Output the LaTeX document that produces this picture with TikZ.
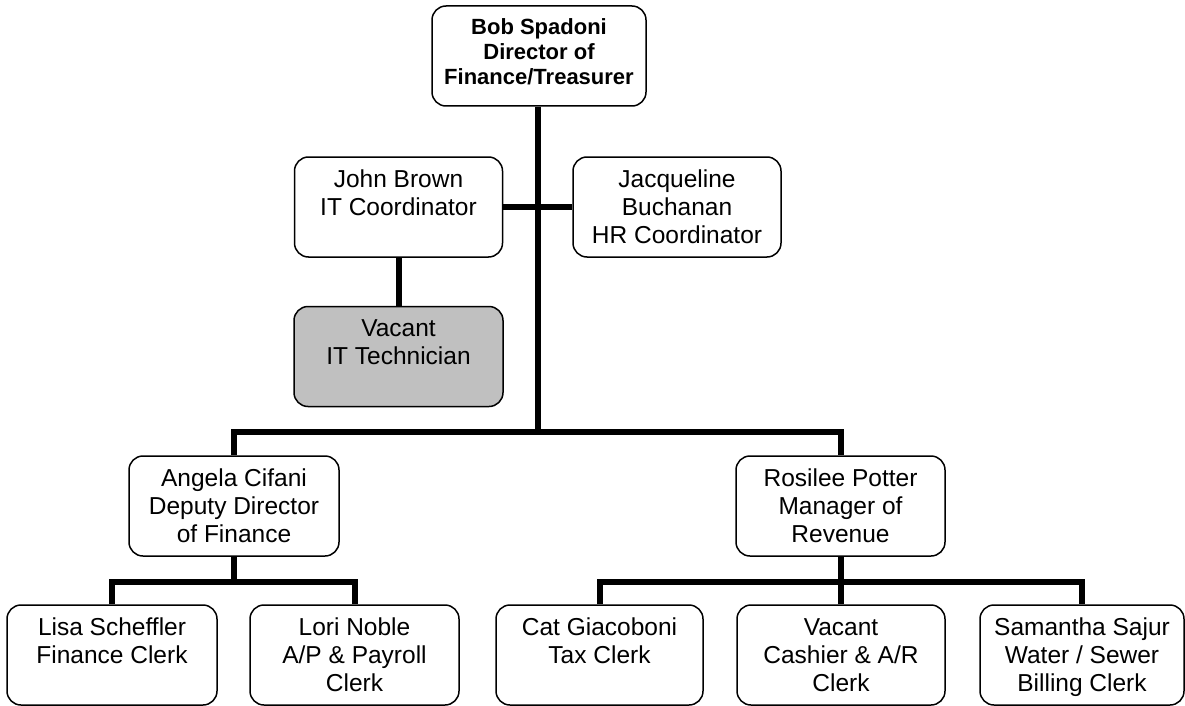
\documentclass[tikz,border=0pt]{standalone}
\usepackage{fontspec}
\setmainfont{Liberation Sans}
\definecolor{vacgray}{HTML}{C0C0C0}
\tikzset{
  box/.style={draw, line width=1.5pt, rounded corners=14pt, fill=white, inner sep=0pt, minimum height=100pt},
  vacbox/.style={box, fill=vacgray},
  conn/.style={line width=6pt},
}
\newcommand{\boxtext}[2]{\parbox[c][100pt][t]{#1}{\centering\fontsize{24.5}{28}\selectfont\rule{0pt}{30pt}#2}}
\begin{document}
\begin{tikzpicture}[x=1pt,y=-1pt]
\useasboundingbox (0,0) rectangle (1185,706);
% boxes
\node[box, minimum width=214pt] (top) at (539,56)
  {\parbox[c][100pt][t]{206pt}{\centering\fontsize{22}{25}\selectfont\bfseries\rule{0pt}{29pt}Bob Spadoni\\Director of\\Finance/Treasurer}};
\node[box, minimum width=208pt] (john) at (398.5,207) {\boxtext{200pt}{John Brown\\IT Coordinator}};
\node[box, minimum width=208pt] (jacq) at (677,207) {\boxtext{200pt}{Jacqueline\\Buchanan\\HR Coordinator}};
\node[vacbox, minimum width=209pt] (vacit) at (398.5,356.5) {\boxtext{200pt}{Vacant\\IT Technician}};
\node[box, minimum width=210pt] (angela) at (234,506) {\boxtext{202pt}{Angela Cifani\\Deputy Director\\of Finance}};
\node[box, minimum width=209pt] (rosilee) at (840.5,506) {\boxtext{202pt}{Rosilee Potter\\Manager of\\Revenue}};
\node[box, minimum width=210pt] (lisa) at (112,655) {\boxtext{202pt}{Lisa Scheffler\\Finance Clerk}};
\node[box, minimum width=209pt] (lori) at (354.5,655) {\boxtext{202pt}{Lori Noble\\A/P \& Payroll\\Clerk}};
\node[box, minimum width=207pt] (cat) at (599.5,655) {\boxtext{200pt}{Cat Giacoboni\\Tax Clerk}};
\node[box, minimum width=208pt] (vaccash) at (841,655) {\boxtext{200pt}{Vacant\\Cashier \& A/R\\Clerk}};
\node[box, minimum width=204pt] (sam) at (1082,655) {\boxtext{200pt}{Samantha Sajur\\Water / Sewer\\Billing Clerk}};
% bus coordinates
\coordinate (bus) at (538,432);
\coordinate (abus) at (234,582);
\coordinate (rbus) at (840.5,582);
% connectors
\draw[conn] (top.south -| bus) -- (bus);
\draw[conn] (john.east) -- (jacq.west);
\draw[conn] (john.south) -- (vacit.north);
\draw[conn] (angela.north) -- (angela.north |- bus) -- (rosilee.north |- bus) -- (rosilee.north);
\draw[conn] (angela.south) -- (abus);
\draw[conn] (lisa.north) -- (lisa.north |- abus) -- (lori.north |- abus) -- (lori.north);
\draw[conn] (rosilee.south) -- (rbus);
\draw[conn] (cat.north) -- (cat.north |- rbus) -- (sam.north |- rbus) -- (sam.north);
\draw[conn] (vaccash.north) -- (vaccash.north |- rbus);
\end{tikzpicture}
\end{document}
